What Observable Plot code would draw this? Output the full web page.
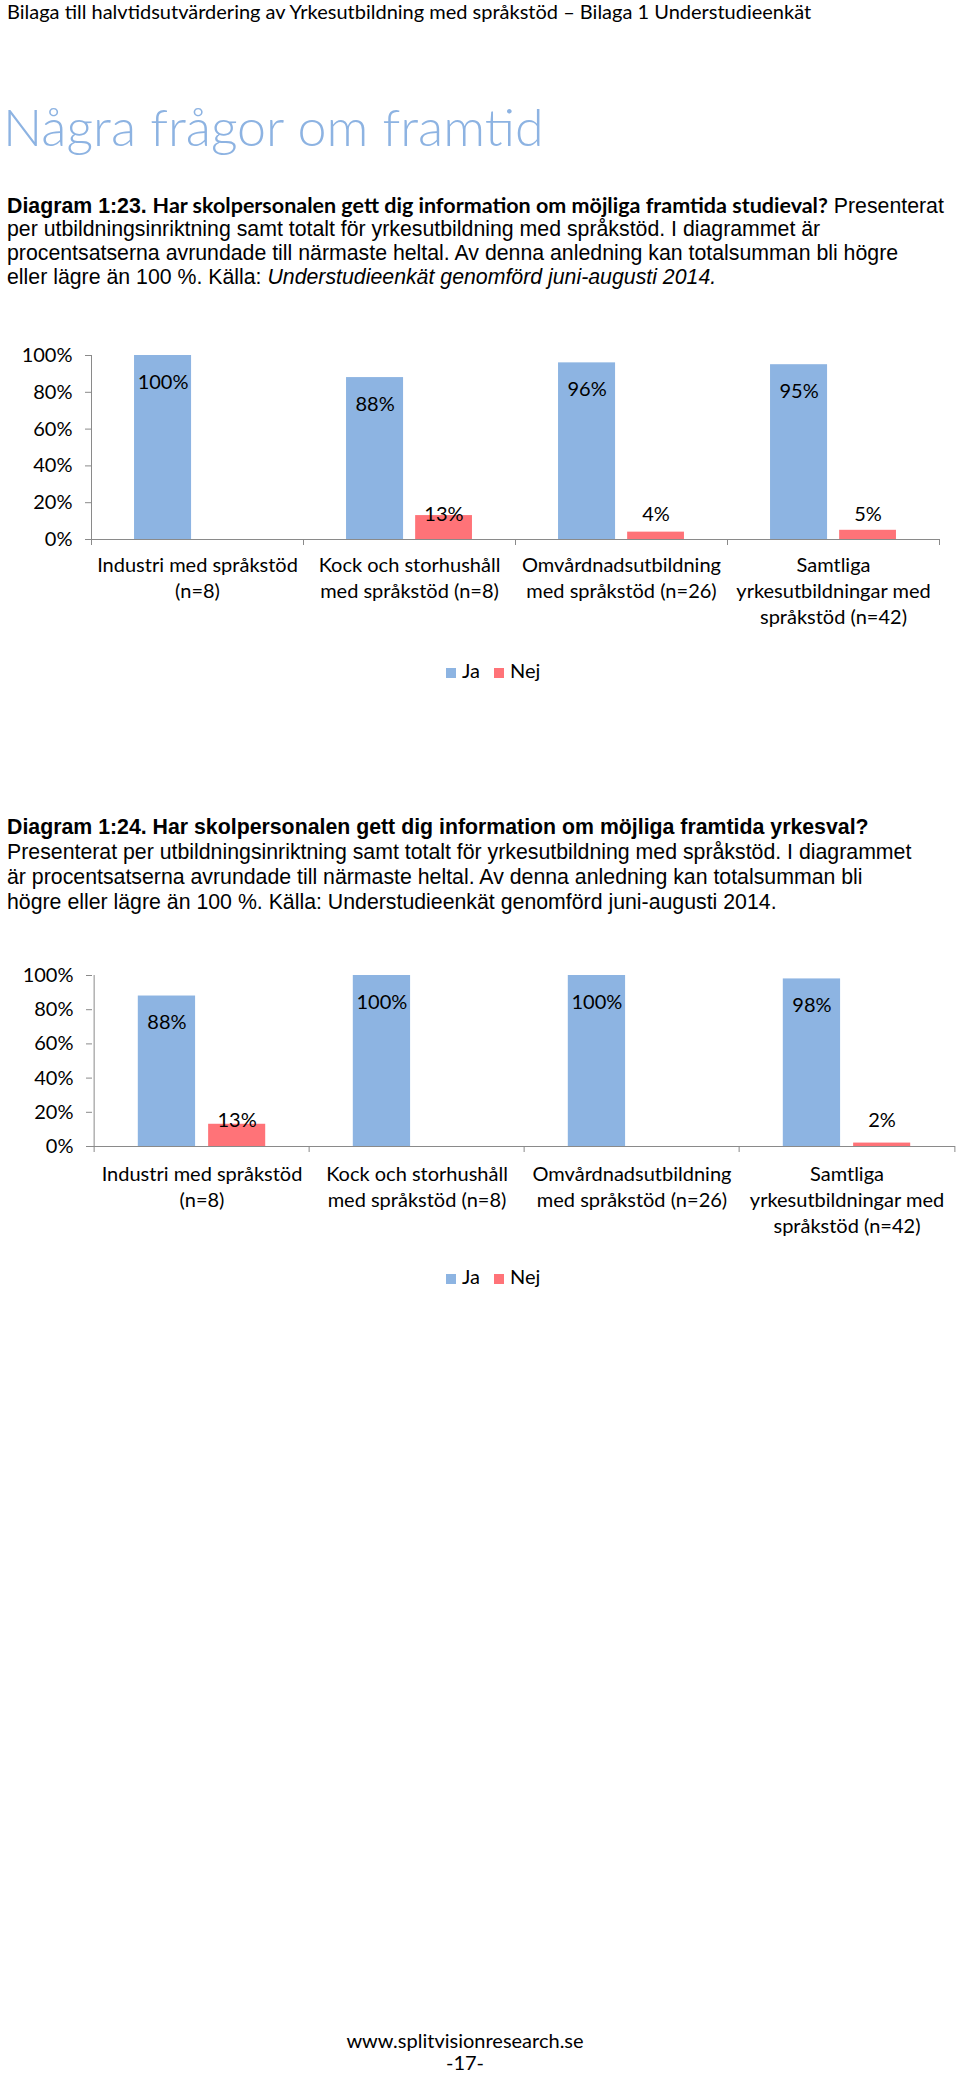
<!DOCTYPE html>
<html><head><meta charset="utf-8">
<script src="https://cdn.jsdelivr.net/npm/d3@7"></script>
<script src="https://cdn.jsdelivr.net/npm/@observablehq/plot@0.6"></script>
<style>
body{margin:0;background:#fff;}
#page{position:relative;width:960px;height:2074px;overflow:hidden;font-family:Lato,sans-serif;color:#000;}
.t{position:absolute;white-space:nowrap;}
.para{font-family:"Liberation Sans",Arial,sans-serif;font-size:21.3px;line-height:25px;left:7px;}
.cal{font-family:Lato,sans-serif;}
.legend{position:absolute;left:0;width:960px;font-family:Lato,sans-serif;font-size:20px;line-height:24px;}
.legend .sw{display:inline-block;width:10px;height:10px;}
.chart{position:absolute;left:0;}
</style></head><body><div id="page">
<div class="t cal" style="left:7px;top:0px;font-size:20px;line-height:23px;">Bilaga till halvtidsutvärdering av Yrkesutbildning med språkstöd – Bilaga 1 Understudieenkät</div>
<div class="t cal" style="left:3px;top:96px;font-size:52px;line-height:60px;font-weight:300;color:#8db3e2;">Några frågor om framtid</div>

<div class="t para" style="top:193px;"><b>Diagram 1:23. </b><b class="cal" style="font-size:21.5px">Har skolpersonalen gett dig information om möjliga framtida studieval?</b> Presenterat</div>
<div class="t para" style="top:217px;">per utbildningsinriktning samt totalt för yrkesutbildning med språkstöd. I diagrammet är</div>
<div class="t para" style="top:241px;">procentsatserna avrundade till närmaste heltal. Av denna anledning kan totalsumman bli högre</div>
<div class="t para" style="top:265px;">eller lägre än 100 %. Källa: <i>Understudieenkät genomförd juni-augusti 2014.</i></div>

<div id="chart1" class="chart" style="top:330px;"></div>
<div id="legend1" class="legend" style="top:658px;"></div>

<div class="t para" style="top:815px;"><b>Diagram 1:24. Har skolpersonalen gett dig information om möjliga framtida yrkesval?</b></div>
<div class="t para" style="top:840px;">Presenterat per utbildningsinriktning samt totalt för yrkesutbildning med språkstöd. I diagrammet</div>
<div class="t para" style="top:865px;">är procentsatserna avrundade till närmaste heltal. Av denna anledning kan totalsumman bli</div>
<div class="t para" style="top:890px;">högre eller lägre än 100 %. Källa: Understudieenkät genomförd juni-augusti 2014.</div>

<div id="chart2" class="chart" style="top:950px;"></div>
<div id="legend2" class="legend" style="top:1264px;"></div>

<div class="t cal" style="left:265px;width:400px;text-align:center;top:2028px;font-size:20px;line-height:24px;">www.splitvisionresearch.se</div>
<div class="t cal" style="left:265px;width:400px;text-align:center;top:2050px;font-size:20px;line-height:24px;">-17-</div>
</div>
<script>
// ---- data ----
const categories = ["Industri med språkstöd (n=8)", "Kock och storhushåll med språkstöd (n=8)", "Omvårdnadsutbildning med språkstöd (n=26)", "Samtliga yrkesutbildningar med språkstöd (n=42)"];
const categoryLines = [["Industri med språkstöd", "(n=8)"], ["Kock och storhushåll", "med språkstöd (n=8)"], ["Omvårdnadsutbildning", "med språkstöd (n=26)"], ["Samtliga", "yrkesutbildningar med", "språkstöd (n=42)"]];
const seriesNames = ["Ja", "Nej"];
const seriesColors = ["#8db4e2", "#ff7378"];
const studievalJa = [100, 88, 96, 95];
const studievalNej = [null, 13, 4, 5];
const yrkesvalJa = [88, 100, 100, 98];
const yrkesvalNej = [13, null, null, 2];
const yTicks = [0, 20, 40, 60, 80, 100];

function rows(values) {
  return values.map((v, i) => ({cat: categories[i], value: v})).filter(d => d.value != null);
}

function drawChart(jaValues, nejValues, o) {
  const W = (o.width - o.marginLeft - o.marginRight) / categories.length;
  const pad = 0.203, bar = 0.269, gap = 0.057;
  const labelShift = (pad + bar / 2 - 0.5) * W;
  const tickPct = 6 / (o.height - o.marginTop - o.marginBottom) * 100;
  const ja = rows(jaValues), nej = rows(nejValues);
  const last = categories[categories.length - 1];
  const fs = 20;
  return Plot.plot({
    width: o.width, height: o.height,
    marginLeft: o.marginLeft, marginRight: o.marginRight, marginTop: o.marginTop, marginBottom: o.marginBottom,
    x: {type: "band", domain: categories, padding: 0, axis: null},
    y: {domain: [0, 100], axis: null},
    style: {fontFamily: "Lato, sans-serif", background: "transparent", overflow: "visible", color: "#000"},
    marks: [
      Plot.barY(ja, {x: "cat", y: "value", fill: seriesColors[0], insetLeft: pad * W, insetRight: (1 - pad - bar) * W}),
      Plot.barY(nej, {x: "cat", y: "value", fill: seriesColors[1], insetLeft: (pad + bar + gap) * W, insetRight: pad * W}),
      Plot.ruleY([0], {stroke: "#8a8a8a"}),
      Plot.ruleX([categories[0]], {x: d => d, y1: 0, y2: 100, dx: -W / 2, stroke: "#8a8a8a"}),
      Plot.ruleX(categories, {x: d => d, y1: 0, y2: -tickPct, dx: -W / 2, stroke: "#8a8a8a"}),
      Plot.ruleX([last], {x: d => d, y1: 0, y2: -tickPct, dx: W / 2, stroke: "#8a8a8a"}),
      Plot.axisY({ticks: yTicks, tickFormat: d => d + "%", tickSize: 6, tickPadding: 13, stroke: "#8a8a8a", fill: "#000", fontSize: fs, label: null}),
      Plot.text(ja, {x: "cat", y: "value", text: d => d.value + "%", dx: labelShift, dy: o.jaLabelDy, fontSize: fs, fill: "#000"}),
      Plot.text(nej, {x: "cat", y: d => Math.max(d.value, o.nejLabelLevel), text: d => d.value + "%", dx: -labelShift, fontSize: fs, fill: "#000"}),
      Plot.text(categories, {x: d => d, text: (d, i) => categoryLines[i].join("\n"), frameAnchor: "bottom", lineAnchor: "top", dy: o.catDy, lineHeight: 1.3, fontSize: fs, fill: "#000"})
    ]
  });
}

function legend(el) {
  el.innerHTML = "";
  const wrap = document.createElement("div");
  wrap.style.cssText = "position:absolute;left:446px;top:0;white-space:nowrap;";
  seriesNames.forEach((name, i) => {
    const sw = document.createElement("span");
    sw.className = "sw";
    sw.style.background = seriesColors[i];
    sw.style.marginRight = "6px";
    const tx = document.createElement("span");
    tx.textContent = name;
    tx.style.marginRight = i === 0 ? "14px" : "0";
    wrap.appendChild(sw); wrap.appendChild(tx);
  });
  el.appendChild(wrap);
}

document.getElementById("chart1").appendChild(drawChart(studievalJa, studievalNej, {
  width: 960, height: 330, marginLeft: 91, marginRight: 21, marginTop: 25, marginBottom: 121,
  jaLabelDy: 27, nejLabelLevel: 13.6, catDy: 14
}));
document.getElementById("chart2").appendChild(drawChart(yrkesvalJa, yrkesvalNej, {
  width: 960, height: 320, marginLeft: 92, marginRight: 5, marginTop: 25, marginBottom: 124,
  jaLabelDy: 27, nejLabelLevel: 15.2, catDy: 16
}));
legend(document.getElementById("legend1"));
legend(document.getElementById("legend2"));
</script>
</body></html>
